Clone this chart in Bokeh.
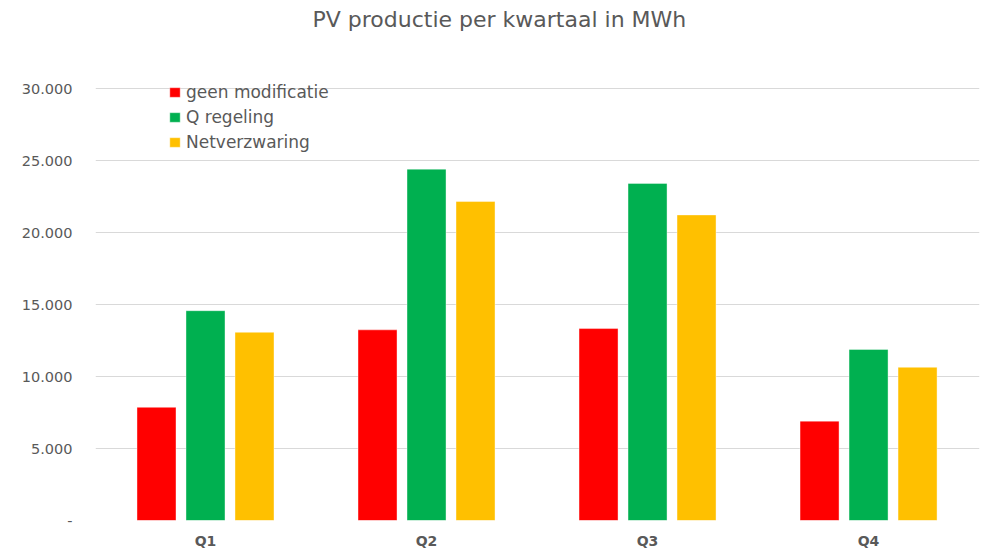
from bokeh.plotting import figure
from bokeh.models import ColumnDataSource, Range1d, FixedTicker, Legend, LegendItem, Title
from bokeh.embed import file_html
from bokeh.resources import INLINE

title = "PV productie per kwartaal in MWh"
quarters = ["Q1", "Q2", "Q3", "Q4"]
series_names = ["geen modificatie", "Q regeling", "Netverzwaring"]
geen_modificatie = [7860, 13240, 13330, 6900]
q_regeling = [14570, 24400, 23410, 11880]
netverzwaring = [13070, 22150, 21220, 10640]
colors = ["#FF0000", "#00B050", "#FFC000"]
y_ticks = [0, 5000, 10000, 15000, 20000, 25000, 30000]

TEXT = "#595959"
FONT = "DejaVu Sans"

p = figure(width=981, height=558, output_backend="svg", toolbar_location=None, title=None,
           x_range=Range1d(-0.4977, 3.502), y_range=Range1d(0, 30625),
           min_border_left=95, min_border_right=2, min_border_top=79, min_border_bottom=38)

spacer = Title(text=" ", text_font=FONT, text_font_size="10px", standoff=29.5)
main_title = Title(text=title, align="left", offset=217, text_font=FONT, text_font_size="22px",
                   text_font_style="normal", text_color=TEXT, standoff=9)
p.add_layout(spacer, "above")
p.add_layout(main_title, "above")

x = list(range(len(quarters)))
offsets = [-0.2217, 0.0, 0.2217]
items = []
for vals, name, col, off in zip([geen_modificatie, q_regeling, netverzwaring], series_names, colors, offsets):
    src = ColumnDataSource(dict(x=[xi + off for xi in x], top=vals))
    r = p.vbar(x="x", top="top", width=0.1765, source=src, fill_color=col,
               line_color="white", line_alpha=0.4, line_width=1)
    items.append(LegendItem(label=name, renderers=[r]))

legend = Legend(items=items, location=(73, 368), orientation="vertical",
                glyph_width=13, glyph_height=12, label_standoff=5, spacing=5,
                padding=0, margin=0, border_line_color=None, background_fill_alpha=0,
                label_text_font=FONT, label_text_font_size="17px", label_text_color=TEXT,
                label_height=20)
p.add_layout(legend)

p.xgrid.visible = False
p.ygrid.grid_line_color = "#D9D9D9"
p.ygrid.grid_line_width = 1
p.outline_line_color = None

for ax in (p.xaxis, p.yaxis):
    ax.axis_line_color = None
    ax.major_tick_line_color = None
    ax.minor_tick_line_color = None
    ax.major_tick_out = 0
    ax.major_tick_in = 0
    ax.minor_tick_out = 0
    ax.minor_tick_in = 0
    ax.major_label_text_font = FONT
    ax.major_label_text_color = TEXT

p.yaxis.ticker = FixedTicker(ticks=y_ticks)
p.yaxis.major_label_overrides = {t: ("-" if t == 0 else f"{t:,}".replace(",", ".")) for t in y_ticks}
p.yaxis.major_label_standoff = 23
p.yaxis.major_label_text_font_size = "14.5px"

p.xaxis.ticker = FixedTicker(ticks=x)
p.xaxis.major_label_overrides = {i: q for i, q in zip(x, quarters)}
p.xaxis.major_label_standoff = 12
p.xaxis.major_label_text_font_size = "14px"
p.xaxis.major_label_text_font_style = "bold"

open("out.html", "w").write(file_html(p, INLINE))
